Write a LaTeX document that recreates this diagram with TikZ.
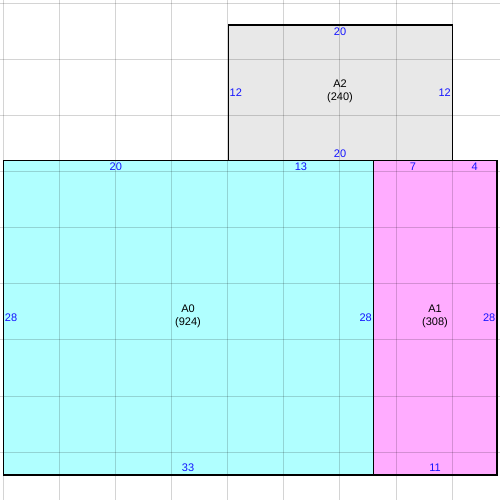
\documentclass[tikz,border=0pt]{standalone}
\usepackage{fontspec}
\setmainfont{Liberation Sans}
\definecolor{cyanfill}{RGB}{176,255,255}
\definecolor{pinkfill}{RGB}{255,172,255}
\definecolor{grayfill}{RGB}{232,232,232}
\definecolor{lblblue}{RGB}{20,20,255}
\begin{document}
\begin{tikzpicture}[x=1pt,y=-1pt,
  lbl/.style={text=lblblue, font=\fontsize{11}{12}\selectfont, inner sep=0pt},
  ctr/.style={align=center, font=\fontsize{11}{13}\selectfont, inner sep=0pt},
  gridline/.style={draw=black, draw opacity=0.17, line width=1pt},
  border/.style={draw=black, line width=1.2pt}]
\useasboundingbox (0,0) rectangle (500,500);
\fill[white] (0,0) rectangle (500,500);
% fills
\fill[grayfill] (228.3,25) rectangle (452.5,160.3);
\fill[cyanfill] (3.3,160.3) rectangle (373.5,475);
\fill[pinkfill] (373.5,160.3) rectangle (497,475);
% grid
\foreach \k in {0,...,8} {
  \draw[gridline] ({3.3+56.1*\k},0) -- ({3.3+56.1*\k},500);
  \draw[gridline] (0,{3.3+56.1*\k}) -- (500,{3.3+56.1*\k});
}
% borders
\draw[border] (228.3,25) rectangle (452.5,160.3);
\draw[border] (3.3,160.3) rectangle (373.5,475);
\draw[border] (373.5,160.3) rectangle (497,475);
% A2 labels
\node[ctr] (a2) at (340,91.5) {A2\\(240)};
\node[lbl] (a2t) at (340,32) {20};
\node[lbl] (a2b) at (340,154) {20};
\node[lbl, anchor=west] (a2l) at (229.5,93) {12};
\node[lbl, anchor=east] (a2r) at (451,93) {12};
% A0 labels
\node[ctr] (a0) at (188,316.5) {A0\\(924)};
\node[lbl] (a0t1) at (115.8,167) {20};
\node[lbl] (a0t2) at (300.9,167) {13};
\node[lbl] (a0b) at (188,468) {33};
\node[lbl, anchor=west] (a0l) at (4.8,318) {28};
\node[lbl, anchor=east] (a0r) at (372,318) {28};
% A1 labels
\node[ctr] (a1) at (435,316.5) {A1\\(308)};
\node[lbl] (a1t1) at (413,167) {7};
\node[lbl] (a1t2) at (474.6,167) {4};
\node[lbl] (a1b) at (435,468) {11};
\node[lbl, anchor=east] (a1r) at (495.5,318) {28};
\end{tikzpicture}
\end{document}
